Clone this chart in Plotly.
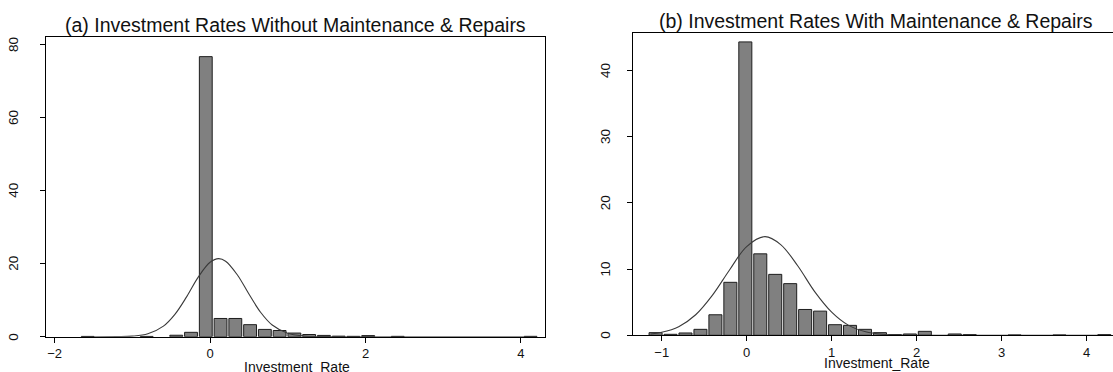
import plotly.graph_objects as go

# ---------------- data ----------------
# Panel (a): Investment rates without maintenance & repairs (percent)
a_bin_centers = [-1.575, -0.815, -0.435, -0.245, -0.055, 0.135, 0.325, 0.515,
                 0.705, 0.895, 1.085, 1.275, 1.465, 1.655, 1.845, 2.035, 2.415, 4.125]
a_percent = [0.08, 0.08, 0.4, 1.2, 76.8, 5.0, 5.0, 3.3,
             2.0, 1.7, 1.0, 0.6, 0.35, 0.15, 0.1, 0.3, 0.1, 0.1]
a_bin_width = 0.19
a_curve_x = [-1.6, -1.2, -1.0, -0.8, -0.6, -0.45, -0.3, -0.15, 0.0, 0.11,
             0.2, 0.35, 0.5, 0.65, 0.8, 1.0, 1.2, 1.5, 2.0, 4.2]
a_curve_y = [0.0, 0.04, 0.16, 0.8, 2.9, 6.2, 11.0, 16.4, 20.4, 21.4,
             20.7, 17.0, 11.7, 6.7, 3.2, 0.92, 0.19, 0.01, 0.0, 0.0]

# Panel (b): Investment rates with maintenance & repairs (percent)
b_bin_centers = [-1.072, -0.896, -0.72, -0.544, -0.368, -0.192, -0.016, 0.16,
                 0.336, 0.512, 0.688, 0.864, 1.04, 1.216, 1.392, 1.568, 1.744,
                 1.92, 2.096, 2.448, 2.624, 3.152, 3.68, 4.208]
b_percent = [0.4, 0.15, 0.35, 0.9, 3.1, 8.0, 44.3, 12.3,
             9.2, 7.8, 3.9, 3.65, 1.6, 1.5, 0.9, 0.4, 0.1,
             0.2, 0.6, 0.2, 0.1, 0.05, 0.05, 0.1]
b_bin_width = 0.176
b_curve_x = [-1.13, -1.0, -0.8, -0.6, -0.4, -0.2, 0.0, 0.215, 0.4, 0.6,
             0.8, 1.0, 1.2, 1.4, 1.6, 1.8, 2.2, 4.25]
b_curve_y = [0.2, 0.45, 1.3, 3.1, 6.1, 9.9, 13.4, 14.9, 13.7, 10.5,
             6.6, 3.5, 1.5, 0.54, 0.16, 0.04, 0.0, 0.0]

a_xticks = [-2, 0, 2, 4]
a_yticks = [0, 20, 40, 60, 80]
b_xticks = [-1, 0, 1, 2, 3, 4]
b_yticks = [0, 10, 20, 30, 40]

title_a = "(a) Investment Rates Without Maintenance & Repairs"
title_b = "(b) Investment Rates With Maintenance & Repairs"
xlabel = "Investment_Rate"

# ---------------- figure ----------------
W, H = 1113, 372
FONT = "Liberation Sans, Arial, Helvetica, sans-serif"
BAR_FILL = "#808080"
BAR_LINE = "#1e1e1e"
CURVE = "#3a3a3a"
TXT = "#111"

fig = go.Figure()

fig.add_trace(go.Bar(x=a_bin_centers, y=a_percent, width=a_bin_width * 0.87,
                     marker=dict(color=BAR_FILL, line=dict(color=BAR_LINE, width=1)),
                     xaxis="x", yaxis="y", showlegend=False))
fig.add_trace(go.Scatter(x=a_curve_x, y=a_curve_y, mode="lines",
                         line=dict(color=CURVE, width=1.1, shape="spline", smoothing=1.0),
                         xaxis="x", yaxis="y", showlegend=False))
fig.add_trace(go.Bar(x=b_bin_centers, y=b_percent, width=b_bin_width * 0.87,
                     marker=dict(color=BAR_FILL, line=dict(color=BAR_LINE, width=1)),
                     xaxis="x2", yaxis="y2", showlegend=False))
fig.add_trace(go.Scatter(x=b_curve_x, y=b_curve_y, mode="lines",
                         line=dict(color=CURVE, width=1.1, shape="spline", smoothing=1.0),
                         xaxis="x2", yaxis="y2", showlegend=False))

def px_x(p):
    return p / W

def px_y(p):
    return (H - p) / H

common_axis = dict(showgrid=False, zeroline=False, showline=True, linecolor="black",
                   linewidth=1, ticks="outside", ticklen=5, tickwidth=1,
                   tickcolor="black", tickfont=dict(family=FONT, size=13, color=TXT))

fig.update_layout(
    width=W, height=H, autosize=False,
    margin=dict(l=0, r=0, t=0, b=0, pad=0),
    paper_bgcolor="white", plot_bgcolor="white",
    font=dict(family=FONT, color=TXT),
    barmode="overlay",
    xaxis=dict(domain=[px_x(45.7), px_x(545)], range=[-2.115, 4.31],
               tickvals=a_xticks, anchor="y", mirror=True, **common_axis),
    yaxis=dict(domain=[px_y(336.7), px_y(37.3)], range=[0, 82.1],
               tickvals=a_yticks, showticklabels=False, anchor="x", mirror=True,
               **common_axis),
    xaxis2=dict(domain=[px_x(633.3), 1.0], range=[-1.334, 4.31],
                tickvals=b_xticks, anchor="y2", mirror=True, **common_axis),
    yaxis2=dict(domain=[px_y(335.3), px_y(33.3)], range=[0, 45.6],
                tickvals=b_yticks, showticklabels=False, anchor="x2", mirror=False,
                **common_axis),
)

annotations = [
    dict(text=title_a, x=px_x(296), y=px_y(25), xref="paper", yref="paper",
         xanchor="center", yanchor="middle", showarrow=False,
         font=dict(family=FONT, size=19.5, color=TXT)),
    dict(text=title_b, x=px_x(876), y=px_y(21), xref="paper", yref="paper",
         xanchor="center", yanchor="middle", showarrow=False,
         font=dict(family=FONT, size=19.5, color=TXT)),
    dict(text=xlabel, x=px_x(296.5), y=px_y(366.8), xref="paper", yref="paper",
         xanchor="center", yanchor="middle", showarrow=False,
         font=dict(family=FONT, size=14, color=TXT)),
    dict(text=xlabel, x=px_x(876.5), y=px_y(363.3), xref="paper", yref="paper",
         xanchor="center", yanchor="middle", showarrow=False,
         font=dict(family=FONT, size=14, color=TXT)),
]
# rotated y tick labels (reading bottom-to-top), placed at the tick values
for v in a_yticks:
    annotations.append(dict(text=str(v), x=px_x(14.0), y=v, xref="paper", yref="y",
                            xanchor="center", yanchor="middle", textangle=-90,
                            showarrow=False, font=dict(family=FONT, size=13.5, color=TXT)))
for v in b_yticks:
    annotations.append(dict(text=str(v), x=px_x(605.5), y=v, xref="paper", yref="y2",
                            xanchor="center", yanchor="middle", textangle=-90,
                            showarrow=False, font=dict(family=FONT, size=13.5, color=TXT)))
fig.update_layout(annotations=annotations)

fig.write_html(
    "out.html",
    config={"displayModeBar": False},
    post_script=(
        "document.documentElement.style.margin='0';"
        "document.documentElement.style.overflow='hidden';"
        "document.body.style.margin='0';"
        "document.body.style.padding='0';"
        "document.body.style.overflow='hidden';"
    ),
)
